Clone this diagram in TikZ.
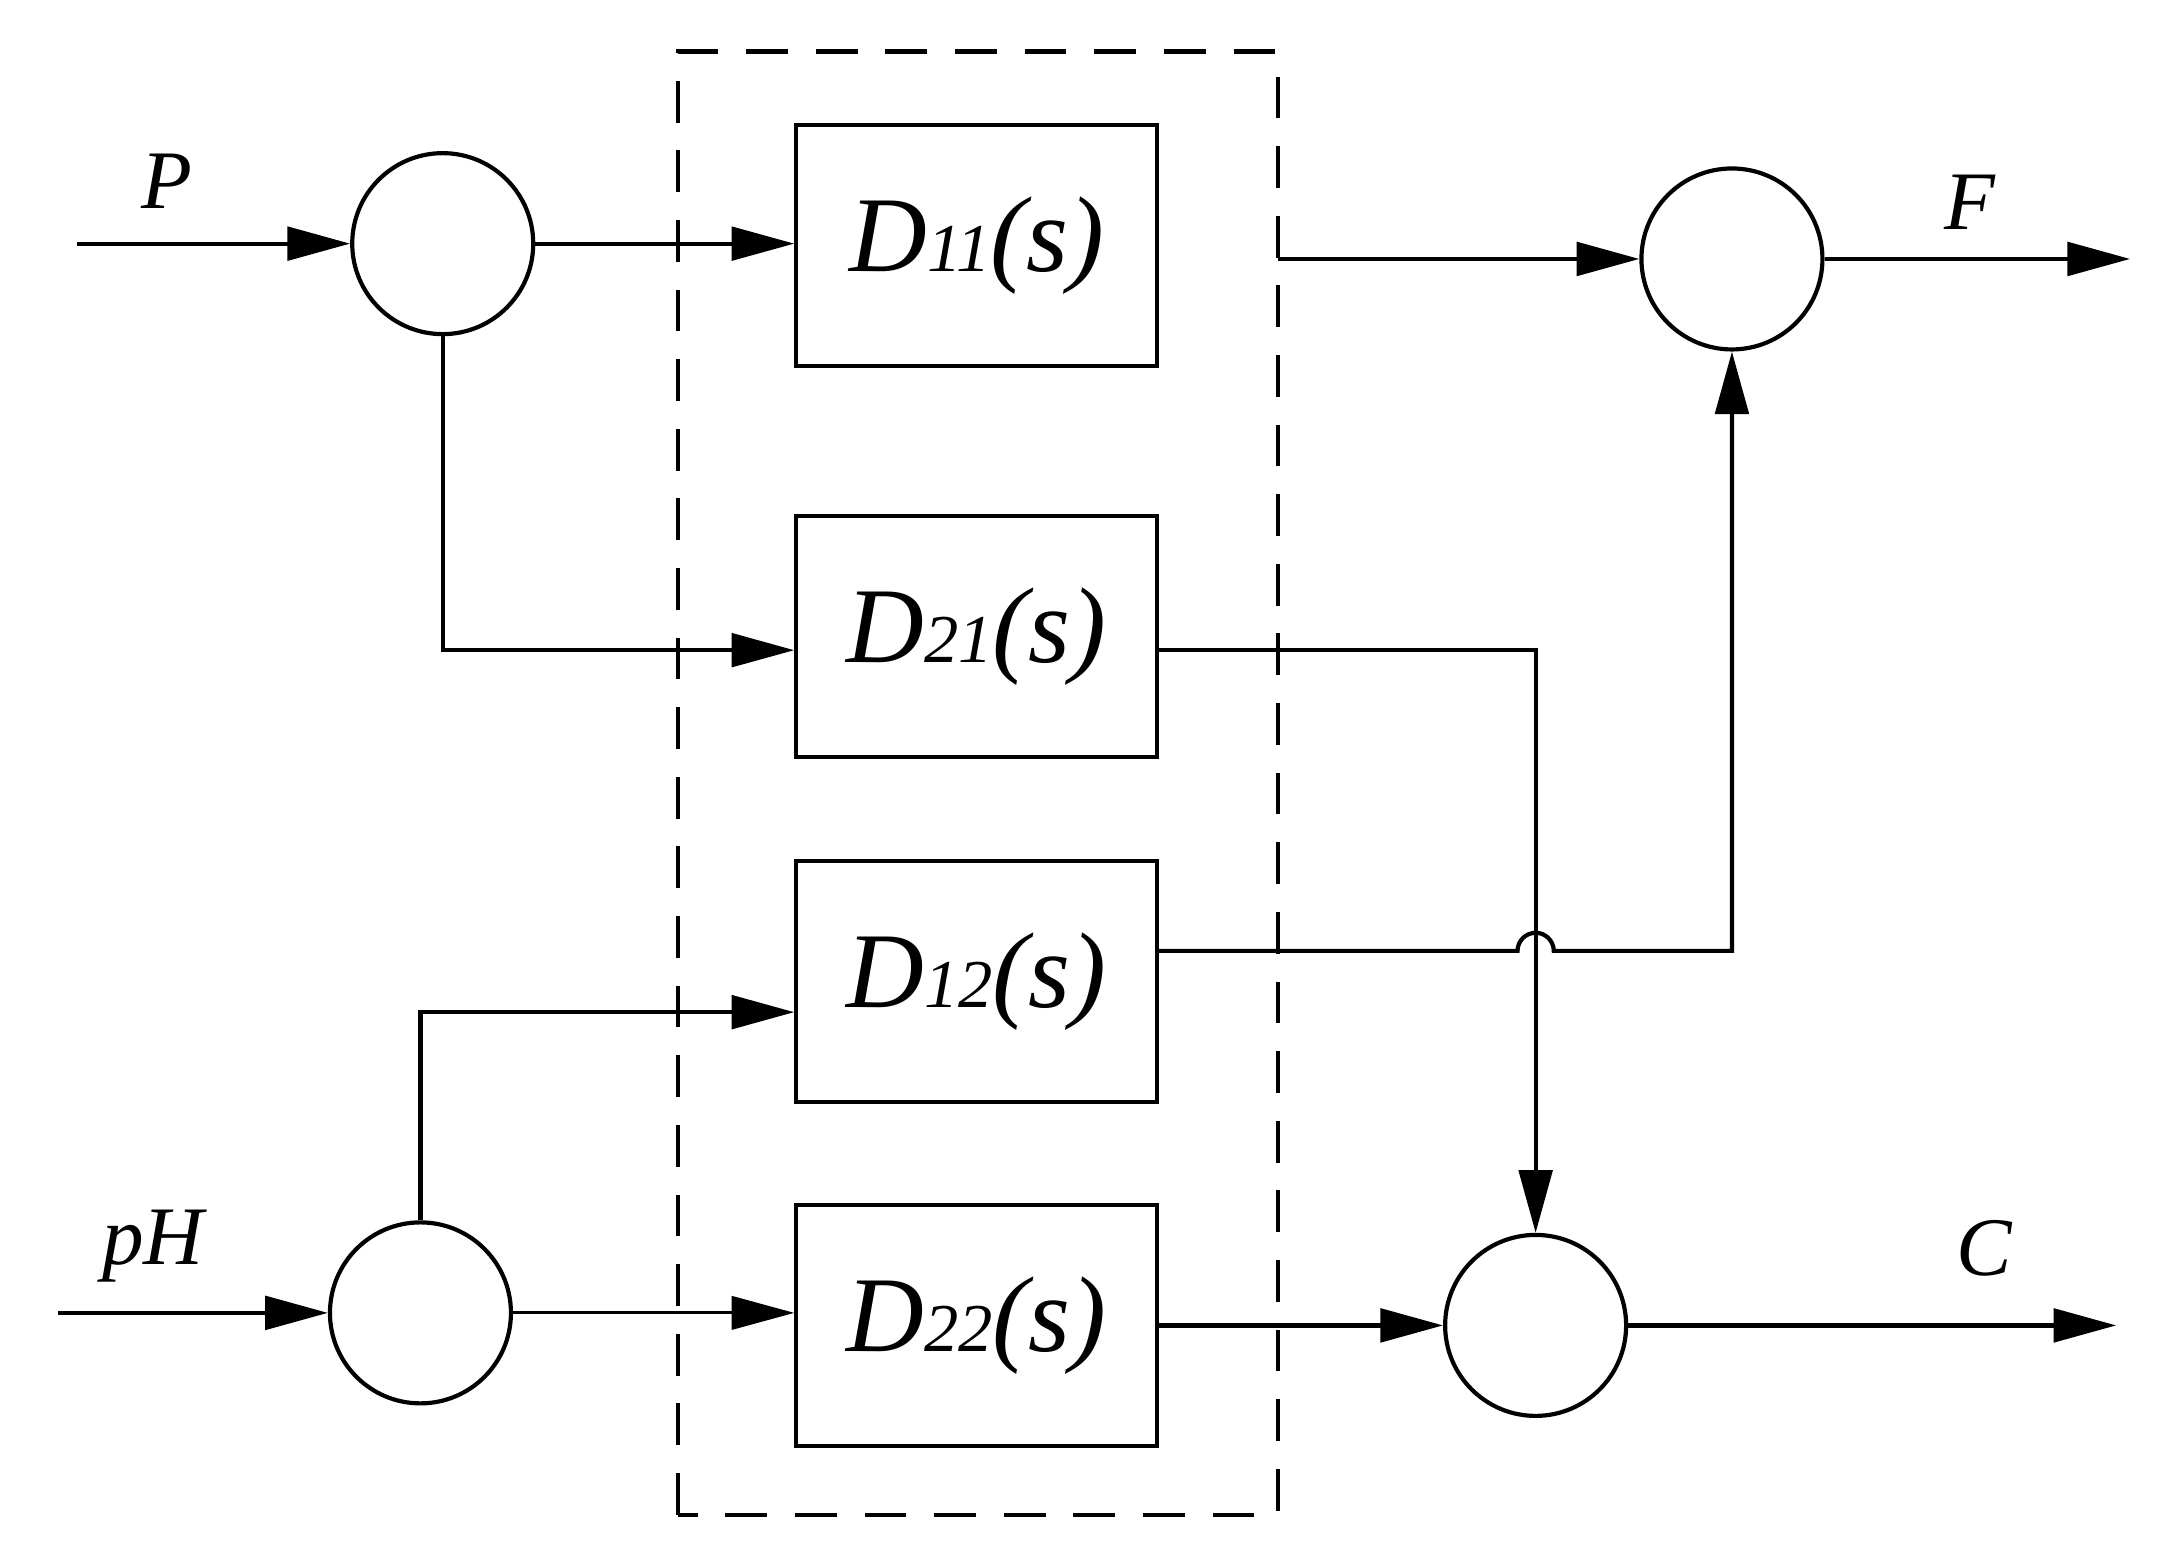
\documentclass[tikz,border=0pt]{standalone}
\usepackage{fontspec}
\setmainfont{Liberation Serif}
\usetikzlibrary{arrows.meta}
\begin{document}
\begin{tikzpicture}[
  ln/.style={line width=0.03cm},
  ar/.style={ln,-{Triangle[length=0.45cm,width=0.24cm]}},
  sum/.style={circle,draw,line width=0.03cm,minimum size=1.3cm,inner sep=0},
  blk/.style={draw,line width=0.03cm,minimum width=2.59cm,minimum height=1.73cm,inner sep=0},
  lab/.style={font=\fontsize{17}{17}\selectfont\itshape}
]
\useasboundingbox (0,0) rectangle (15.68,11.16);
\newcommand{\dlab}[1]{\fontsize{22}{22}\selectfont\itshape D\fontsize{14}{14}\selectfont#1\fontsize{22}{22}\selectfont(s)}
\draw[ln,dash pattern=on 0.3cm off 0.2cm] (4.87,0.28) rectangle (9.18,10.79);
\node[blk] (D11) at (7.015,9.395) {\dlab{11}};
\node[blk] (D21) at (7.015,6.59) {\dlab{21}};
\node[blk] (D12) at (7.015,4.11) {\dlab{12}};
\node[blk] (D22) at (7.015,1.64) {\dlab{22}};
\node[sum] (Pc) at (3.18,9.41) {};
\node[sum] (Hc) at (3.02,1.73) {};
\node[sum] (Fc) at (12.44,9.30) {};
\node[sum] (Cc) at (11.03,1.64) {};
\node[lab] (Pl) at (1.20,9.86) {P};
\node[lab] (Hl) at (1.10,2.21) {pH};
\node[lab] (Fl) at (14.15,9.71) {F};
\node[lab] (Cl) at (14.25,2.19) {C};
\coordinate (Pin) at (0.55,9.41);
\coordinate (Hin) at (0.42,1.73);
\coordinate (Fout) at (15.30,9.30);
\coordinate (Cout) at (15.20,1.64);
\coordinate (D11o) at (9.18,9.30);
\draw[ar] (Pin) -- (Pc);
\draw[ar] (Hin) -- (Hc);
\draw[ar] (Pc) -- (Pc -| D11.west);
\draw[ar] (Pc.south) |- (D21.west |- 0,6.49);
\draw[ar] (Hc.north) |- (D12.west |- 0,3.89);
\draw[ar,line width=0.02cm] (Hc) -- (Hc -| D22.west);
\draw[ar] (D11o) -- (Fc);
\draw[ar] (D21.east |- 0,6.49) -| (Cc.north);
\draw[ar] (D12.east |- 0,4.33) -- (10.90,4.33) arc(180:0:0.13) -- (12.44,4.33) -- (Fc.south);
\draw[ar] (D22) -- (Cc);
\draw[ar] (Fc) -- (Fout);
\draw[ar] (Cc) -- (Cout);
\end{tikzpicture}
\end{document}
